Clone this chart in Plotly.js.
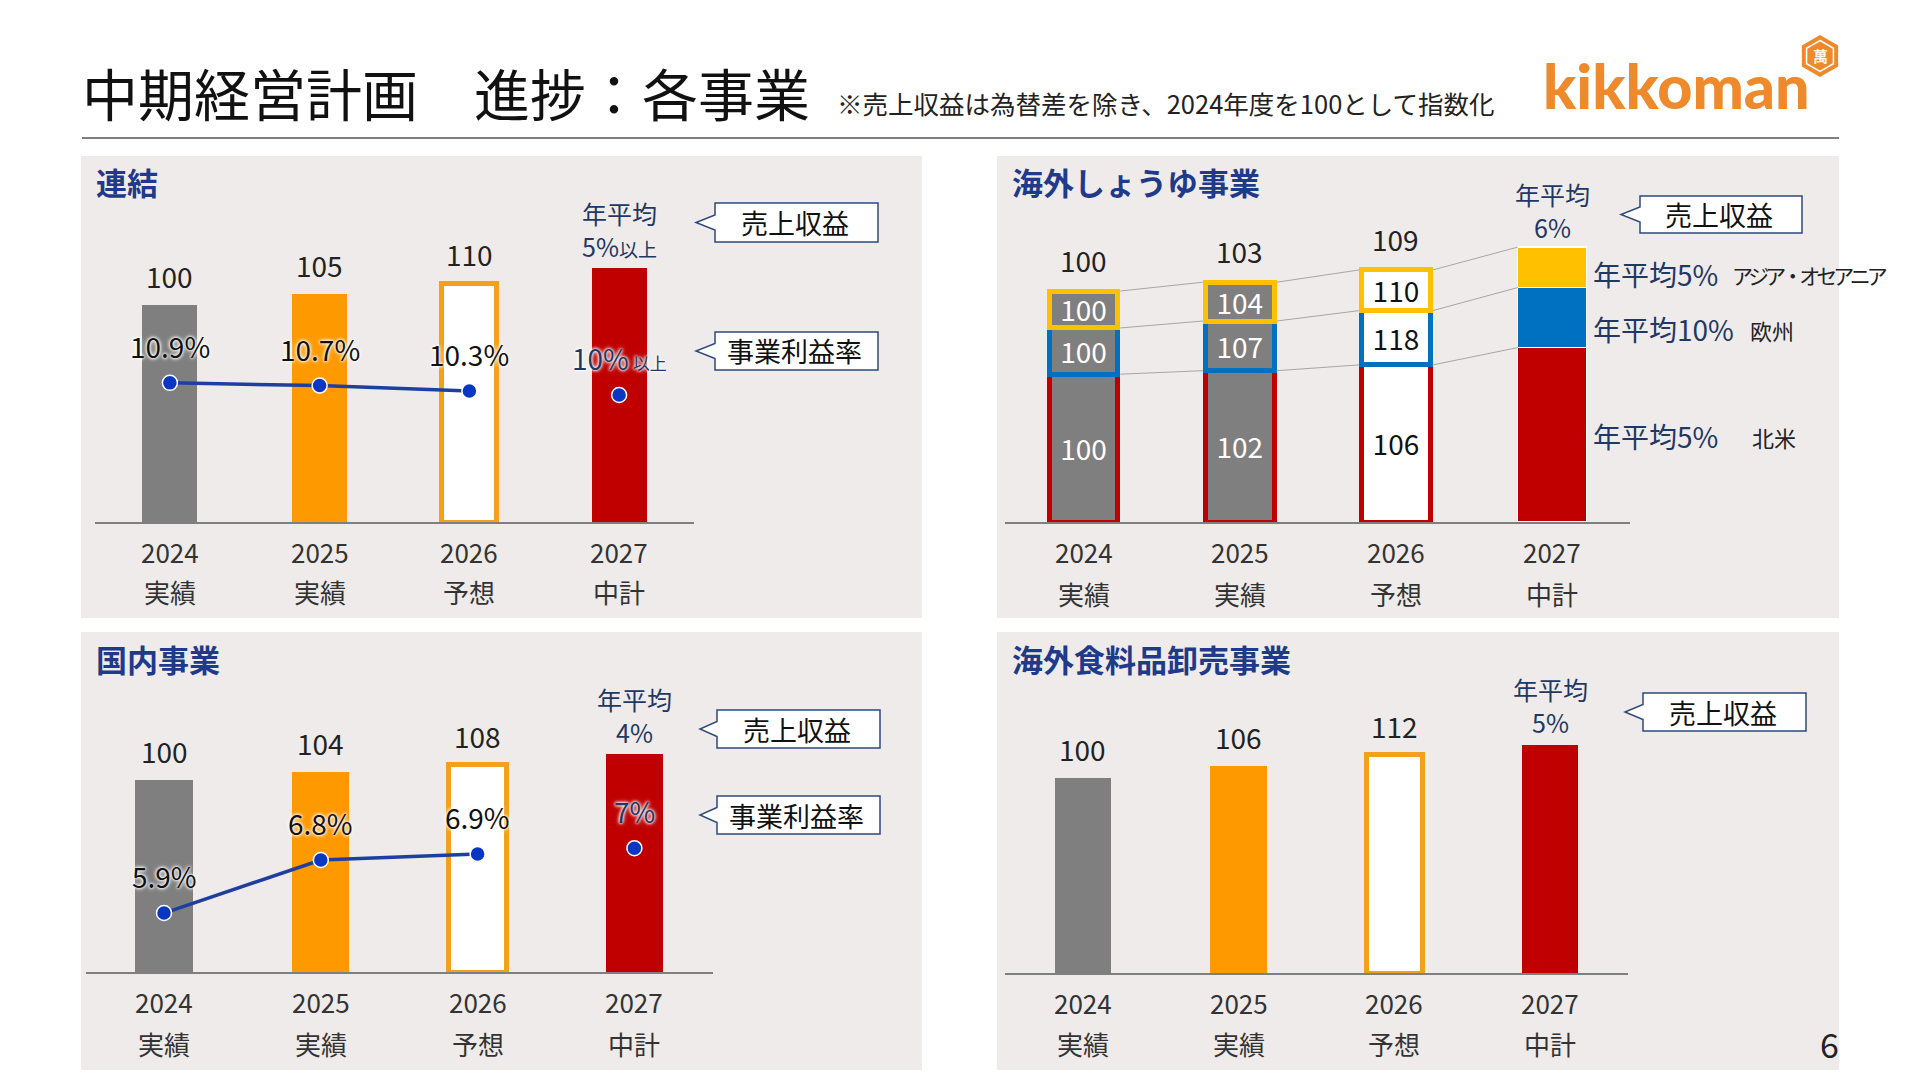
<!DOCTYPE html>
<html><head><meta charset="utf-8">
<script src="https://cdn.plot.ly/plotly-3.0.1.min.js"></script>
<style>html,body{margin:0;padding:0;background:#fff;}#chart{width:1920px;height:1080px;}</style>
</head><body><div id="chart"></div>
<script>
// ---------------- data ----------------
const years = ['2024', '2025', '2026', '2027'];
const kinds = ['実績', '実績', '予想', '中計'];

// 連結
const consolRevenue = [100, 105, 110, 117];
const consolRevenueLabels = ['100', '105', '110', ''];
const consolMargin = [10.9, 10.7, 10.3, 10.0];
const consolMarginLabels = ['10.9%', '10.7%', '10.3%', '10%<span style="font-size:17px"> 以上</span>'];
const consolTarget = '年平均<br>5%<span style="font-size:19px">以上</span>';

// 海外しょうゆ事業 (segments of the index, 2024 total = 100)
const soyNorthAmerica = [64, 65.5, 68, 75.5];
const soyEurope = [20, 21.5, 23.5, 26];
const soyAsia = [16, 16.8, 17.6, 17.5];
const soyNorthAmericaIdx = ['100', '102', '106', ''];
const soyEuropeIdx = ['100', '107', '118', ''];
const soyAsiaIdx = ['100', '104', '110', ''];
const soyTotalLabels = ['100', '103', '109', ''];
const soyTarget = '年平均<br>6%';
const soyRegionNames = ['北米', '欧州', 'アジア・オセアニア'];
const soyRegionGrowth = ['年平均5%', '年平均10%', '年平均5%'];

// 国内事業
const domRevenue = [100, 104, 108, 113.5];
const domRevenueLabels = ['100', '104', '108', ''];
const domMargin = [5.9, 6.8, 6.9, 7.0];
const domMarginLabels = ['5.9%', '6.8%', '6.9%', '7%'];
const domTarget = '年平均<br>4%';

// 海外食料品卸売事業
const whsRevenue = [100, 106, 112, 117];
const whsRevenueLabels = ['100', '106', '112', ''];
const whsTarget = '年平均<br>5%';

const panelTitles = ['連結', '海外しょうゆ事業', '国内事業', '海外食料品卸売事業'];
const calloutRevenue = '売上収益';
const calloutMargin = '事業利益率';
const mainTitle = '中期経営計画　進捗：各事業';
const subTitle = '※売上収益は為替差を除き、2024年度を100として指数化';

// ---------------- styling / geometry ----------------
const W = 1920, H = 1080;
const px = v => v / W;
const py = v => 1 - v / H;
const FF = "'Noto Sans CJK JP', 'Noto Sans', sans-serif";
const NAVY = '#1F3864';
const TITLE_NAVY = '#1F3A8A';
const GRAY = '#7F7F7F', ORANGE = '#FF9900', OUTLINE_OR = '#F5A01A', RED = '#C00000';
const BLUE = '#0070C0', YELLOW = '#FFC000';
const PANEL_BG = '#EEEBEA';
const GLOW = '0px 0px 3px #fff, 0px 0px 3px #fff, 0px 0px 5px #fff';
const xs = [0, 1, 2, 3];

const G = {
  tl: {xl: 95, xr: 694, base: 522, top: 160, ppu: 2.17, bw: 0.367},
  tr: {xl: 1005.4, xr: 1630.2, base: 522, top: 160, ppu: 2.31, bw: 0.44},
  bl: {xl: 85.6, xr: 712.8, base: 972, top: 620, ppu: 1.92, bw: 0.365},
  br: {xl: 1005, xr: 1628, base: 973, top: 620, ppu: 1.95, bw: 0.364}
};
function xax(g) {
  return {domain: [px(g.xl), px(g.xr)], range: [-0.5, 3.5], showline: true, linecolor: '#7F7F7F',
    linewidth: 1.5, showgrid: false, zeroline: false, showticklabels: false, ticks: '', fixedrange: true};
}
function yax(g, anchor) {
  return {domain: [py(g.base), py(g.top)], range: [0, (g.base - g.top) / g.ppu], visible: false,
    anchor: anchor, fixedrange: true};
}

const traces = [];
const annotations = [];
const shapes = [];
function ann(o) {
  const f = Object.assign({family: FF, size: 26, color: '#222'}, o.font || {});
  annotations.push(Object.assign({showarrow: false, xanchor: 'center', yanchor: 'middle'}, o, {font: f}));
}

// panel backgrounds
[[81, 156, 922, 618], [997, 156, 1839, 618], [81, 632, 922, 1070], [997, 632, 1839, 1070]].forEach(r => {
  shapes.push({type: 'rect', xref: 'paper', yref: 'paper', x0: px(r[0]), x1: px(r[2]), y0: py(r[3]), y1: py(r[1]),
    fillcolor: PANEL_BG, line: {width: 0}, layer: 'below'});
});
// header rule
shapes.push({type: 'line', xref: 'paper', yref: 'paper', x0: px(82), x1: px(1839), y0: py(138), y1: py(138),
  line: {color: '#808080', width: 2}});

// callout boxes
function callout(l, t, r, b, tip, text) {
  const m = (t + b) / 2, n = 7.5;
  const P = (x, y) => px(x) + ',' + py(y);
  shapes.push({type: 'path', xref: 'paper', yref: 'paper',
    path: 'M' + P(l, t) + 'L' + P(r, t) + 'L' + P(r, b) + 'L' + P(l, b) + 'L' + P(l, m + n) + 'L' + P(tip, m) + 'L' + P(l, m - n) + 'Z',
    fillcolor: '#FFFFFF', line: {color: '#2E4A7D', width: 1.5}});
  ann({xref: 'paper', yref: 'paper', x: px((l + r) / 2 - 2), y: py(m), text: text, font: {size: 27, color: '#111'}});
}
callout(715, 203, 878, 242, 696, calloutRevenue);
callout(715, 332, 878, 370, 696, calloutMargin);
callout(1640, 196, 1802, 233, 1621, calloutRevenue);
callout(717, 710, 880, 748, 700, calloutRevenue);
callout(717, 796, 880, 834, 700, calloutMargin);
callout(1643, 693, 1806, 731, 1625, calloutRevenue);

// panel titles
[[94, 181], [1010, 181], [94, 658], [1010, 658]].forEach((p, i) => {
  ann({xref: 'paper', yref: 'paper', x: px(p[0]), y: py(p[1]), xanchor: 'left', text: panelTitles[i],
    font: {size: 31, color: TITLE_NAVY, weight: 'bold'}});
});

// category labels
function catLabels(xref, yYear, yKind) {
  xs.forEach(i => {
    ann({xref: xref, yref: 'paper', x: i, y: py(yYear), text: years[i], font: {size: 26, color: '#333'}});
    ann({xref: xref, yref: 'paper', x: i, y: py(yKind), text: kinds[i], font: {size: 26, color: '#333'}});
  });
}
catLabels('x', 551, 591);
catLabels('x2', 551, 593);
catLabels('x3', 1001, 1043);
catLabels('x4', 1002, 1043);

// simple bar panel
function simplePanel(xa, ya, vals, labels, target, bw) {
  traces.push({type: 'bar', x: xs, y: vals, xaxis: xa, yaxis: ya, width: bw,
    marker: {color: [GRAY, ORANGE, '#FFFFFF', RED],
      line: {color: ['rgba(0,0,0,0)', 'rgba(0,0,0,0)', OUTLINE_OR, 'rgba(0,0,0,0)'], width: [0, 0, 5, 0]}},
    hoverinfo: 'skip', showlegend: false});
  xs.forEach(i => {
    if (labels[i]) ann({xref: xa, yref: ya, x: i, y: vals[i], yshift: 29, text: labels[i], font: {size: 28, color: '#222'}});
  });
  ann({xref: xa, yref: ya, x: 3, y: vals[3], yshift: 39, text: target, font: {size: 25, color: NAVY}});
}
function marginLine(xa, ya, vals, labels) {
  const lineCol = '#1F3FA0', mk = {size: 15, color: '#0A36C4', line: {color: '#FFFFFF', width: 1.5}};
  traces.push({type: 'scatter', mode: 'lines+markers', x: xs.slice(0, 3), y: vals.slice(0, 3), xaxis: xa, yaxis: ya,
    line: {color: lineCol, width: 3.5}, marker: mk, hoverinfo: 'skip', showlegend: false});
  traces.push({type: 'scatter', mode: 'markers', x: [xs[3]], y: [vals[3]], xaxis: xa, yaxis: ya,
    marker: mk, hoverinfo: 'skip', showlegend: false});
  xs.forEach(i => {
    ann({xref: xa, yref: ya, x: i, y: vals[i], yshift: 37, text: labels[i],
      font: {size: 28, color: i === 3 ? NAVY : '#111', shadow: GLOW}});
  });
}
simplePanel('x', 'y', consolRevenue, consolRevenueLabels, consolTarget, G.tl.bw);
marginLine('x', 'y5', consolMargin, consolMarginLabels);
simplePanel('x3', 'y3', domRevenue, domRevenueLabels, domTarget, G.bl.bw);
marginLine('x3', 'y6', domMargin, domMarginLabels);
simplePanel('x4', 'y4', whsRevenue, whsRevenueLabels, whsTarget, G.br.bw);

// stacked soy panel
const segs = [
  {vals: soyNorthAmerica, idx: soyNorthAmericaIdx, col: RED},
  {vals: soyEurope, idx: soyEuropeIdx, col: BLUE},
  {vals: soyAsia, idx: soyAsiaIdx, col: YELLOW}
];
const txtCol = ['#FFFFFF', '#FFFFFF', '#111111', '#111111'];
segs.forEach(s => {
  traces.push({type: 'bar', x: xs, y: s.vals, xaxis: 'x2', yaxis: 'y2', width: G.tr.bw,
    marker: {color: [GRAY, GRAY, '#FFFFFF', s.col], line: {color: [s.col, s.col, s.col, '#FFFFFF'], width: [5, 5, 5, 1.5]}},
    text: s.idx, textposition: 'inside', insidetextanchor: 'middle', constraintext: 'none', textangle: 0,
    insidetextfont: {family: FF, size: 28, color: txtCol}, hoverinfo: 'skip', showlegend: false});
});
// cumulative levels and connectors
const cum1 = xs.map(i => soyNorthAmerica[i]);
const cum2 = xs.map(i => soyNorthAmerica[i] + soyEurope[i]);
const cum3 = xs.map(i => soyNorthAmerica[i] + soyEurope[i] + soyAsia[i]);
const hwOut = G.tr.bw / 2 + 2.5 / ((G.tr.xr - G.tr.xl) / 4);
const cx = [], cy = [];
[cum1, cum2, cum3].forEach(c => {
  for (let i = 0; i < 3; i++) {
    const hwNext = (i + 1 === 3) ? G.tr.bw / 2 : hwOut;
    cx.push(i + hwOut, i + 1 - hwNext, null);
    cy.push(c[i], c[i + 1], null);
  }
});
traces.push({type: 'scatter', mode: 'lines', x: cx, y: cy, xaxis: 'x2', yaxis: 'y2',
  line: {color: '#A6A6A6', width: 1}, hoverinfo: 'skip', showlegend: false, connectgaps: false});
xs.forEach(i => {
  if (soyTotalLabels[i]) ann({xref: 'x2', yref: 'y2', x: i, y: cum3[i], yshift: 31, text: soyTotalLabels[i], font: {size: 28, color: '#222'}});
});
ann({xref: 'x2', yref: 'y2', x: 3, y: cum3[3], yshift: 37, text: soyTarget, font: {size: 25, color: NAVY}});
// region labels (North America, Europe, Asia)
const regY = [436, 329, 274];
const regNameX = [1750, 1748, 1730];
const regNameStyle = ['', '', 'letter-spacing:-4px'];
[0, 1, 2].forEach(k => {
  ann({xref: 'paper', yref: 'paper', x: px(1591), y: py(regY[k]), xanchor: 'left', text: soyRegionGrowth[k],
    font: {size: 28, color: NAVY}});
  ann({xref: 'paper', yref: 'paper', x: px(regNameX[k]), y: py(regY[k] + 1), xanchor: 'left',
    text: regNameStyle[k] ? '<span style="' + regNameStyle[k] + '">' + soyRegionNames[k] + '</span>' : soyRegionNames[k],
    font: {size: k === 2 ? 21 : 22, color: '#222'}});
});

// header texts
ann({xref: 'paper', yref: 'paper', x: px(80), y: py(92), xanchor: 'left', text: mainTitle, font: {size: 56, color: '#111'}});
ann({xref: 'paper', yref: 'paper', x: px(835), y: py(102), xanchor: 'left', text: subTitle, font: {size: 25.5, color: '#222'}});
// logo
ann({xref: 'paper', yref: 'paper', x: px(1676), y: py(86), text: 'kikkoman',
  font: {family: "Lato, 'DejaVu Sans', sans-serif", size: 61, color: '#EE8A2B', weight: 900}});
function hexPath(cxp, cyp, r) {
  let s = '';
  for (let k = 0; k < 6; k++) {
    const a = (-90 + 60 * k) * Math.PI / 180;
    s += (k ? 'L' : 'M') + px(cxp + r * Math.cos(a)) + ',' + py(cyp + r * Math.sin(a));
  }
  return s + 'Z';
}
shapes.push({type: 'path', xref: 'paper', yref: 'paper', path: hexPath(1820, 56, 21), fillcolor: '#EE8A2B', line: {width: 0}});
shapes.push({type: 'path', xref: 'paper', yref: 'paper', path: hexPath(1820, 56, 15.5), fillcolor: 'rgba(0,0,0,0)', line: {color: '#FFFFFF', width: 1.5}});
ann({xref: 'paper', yref: 'paper', x: px(1820), y: py(56), text: '萬', font: {size: 15, color: '#FFF4E6', weight: 'bold'}});
// page number
ann({xref: 'paper', yref: 'paper', x: px(1829), y: py(1043), text: '6', font: {size: 34, color: '#222'}});

const layout = {
  width: W, height: H, margin: {l: 0, r: 0, t: 0, b: 0},
  paper_bgcolor: '#FFFFFF', plot_bgcolor: 'rgba(0,0,0,0)',
  barmode: 'stack', bargap: 0, showlegend: false,
  font: {family: FF},
  xaxis: Object.assign(xax(G.tl), {anchor: 'y'}), yaxis: yax(G.tl, 'x'),
  xaxis2: Object.assign(xax(G.tr), {anchor: 'y2'}), yaxis2: yax(G.tr, 'x2'),
  xaxis3: Object.assign(xax(G.bl), {anchor: 'y3'}), yaxis3: yax(G.bl, 'x3'),
  xaxis4: Object.assign(xax(G.br), {anchor: 'y4'}), yaxis4: yax(G.br, 'x4'),
  yaxis5: {overlaying: 'y', anchor: 'x', range: [0.6, 27.4], visible: false, fixedrange: true},
  yaxis6: {overlaying: 'y3', anchor: 'x3', range: [4.9, 10.87], visible: false, fixedrange: true},
  annotations: annotations, shapes: shapes
};
Plotly.newPlot('chart', traces, layout, {displayModeBar: false, staticPlot: true});
</script>
</body></html>
